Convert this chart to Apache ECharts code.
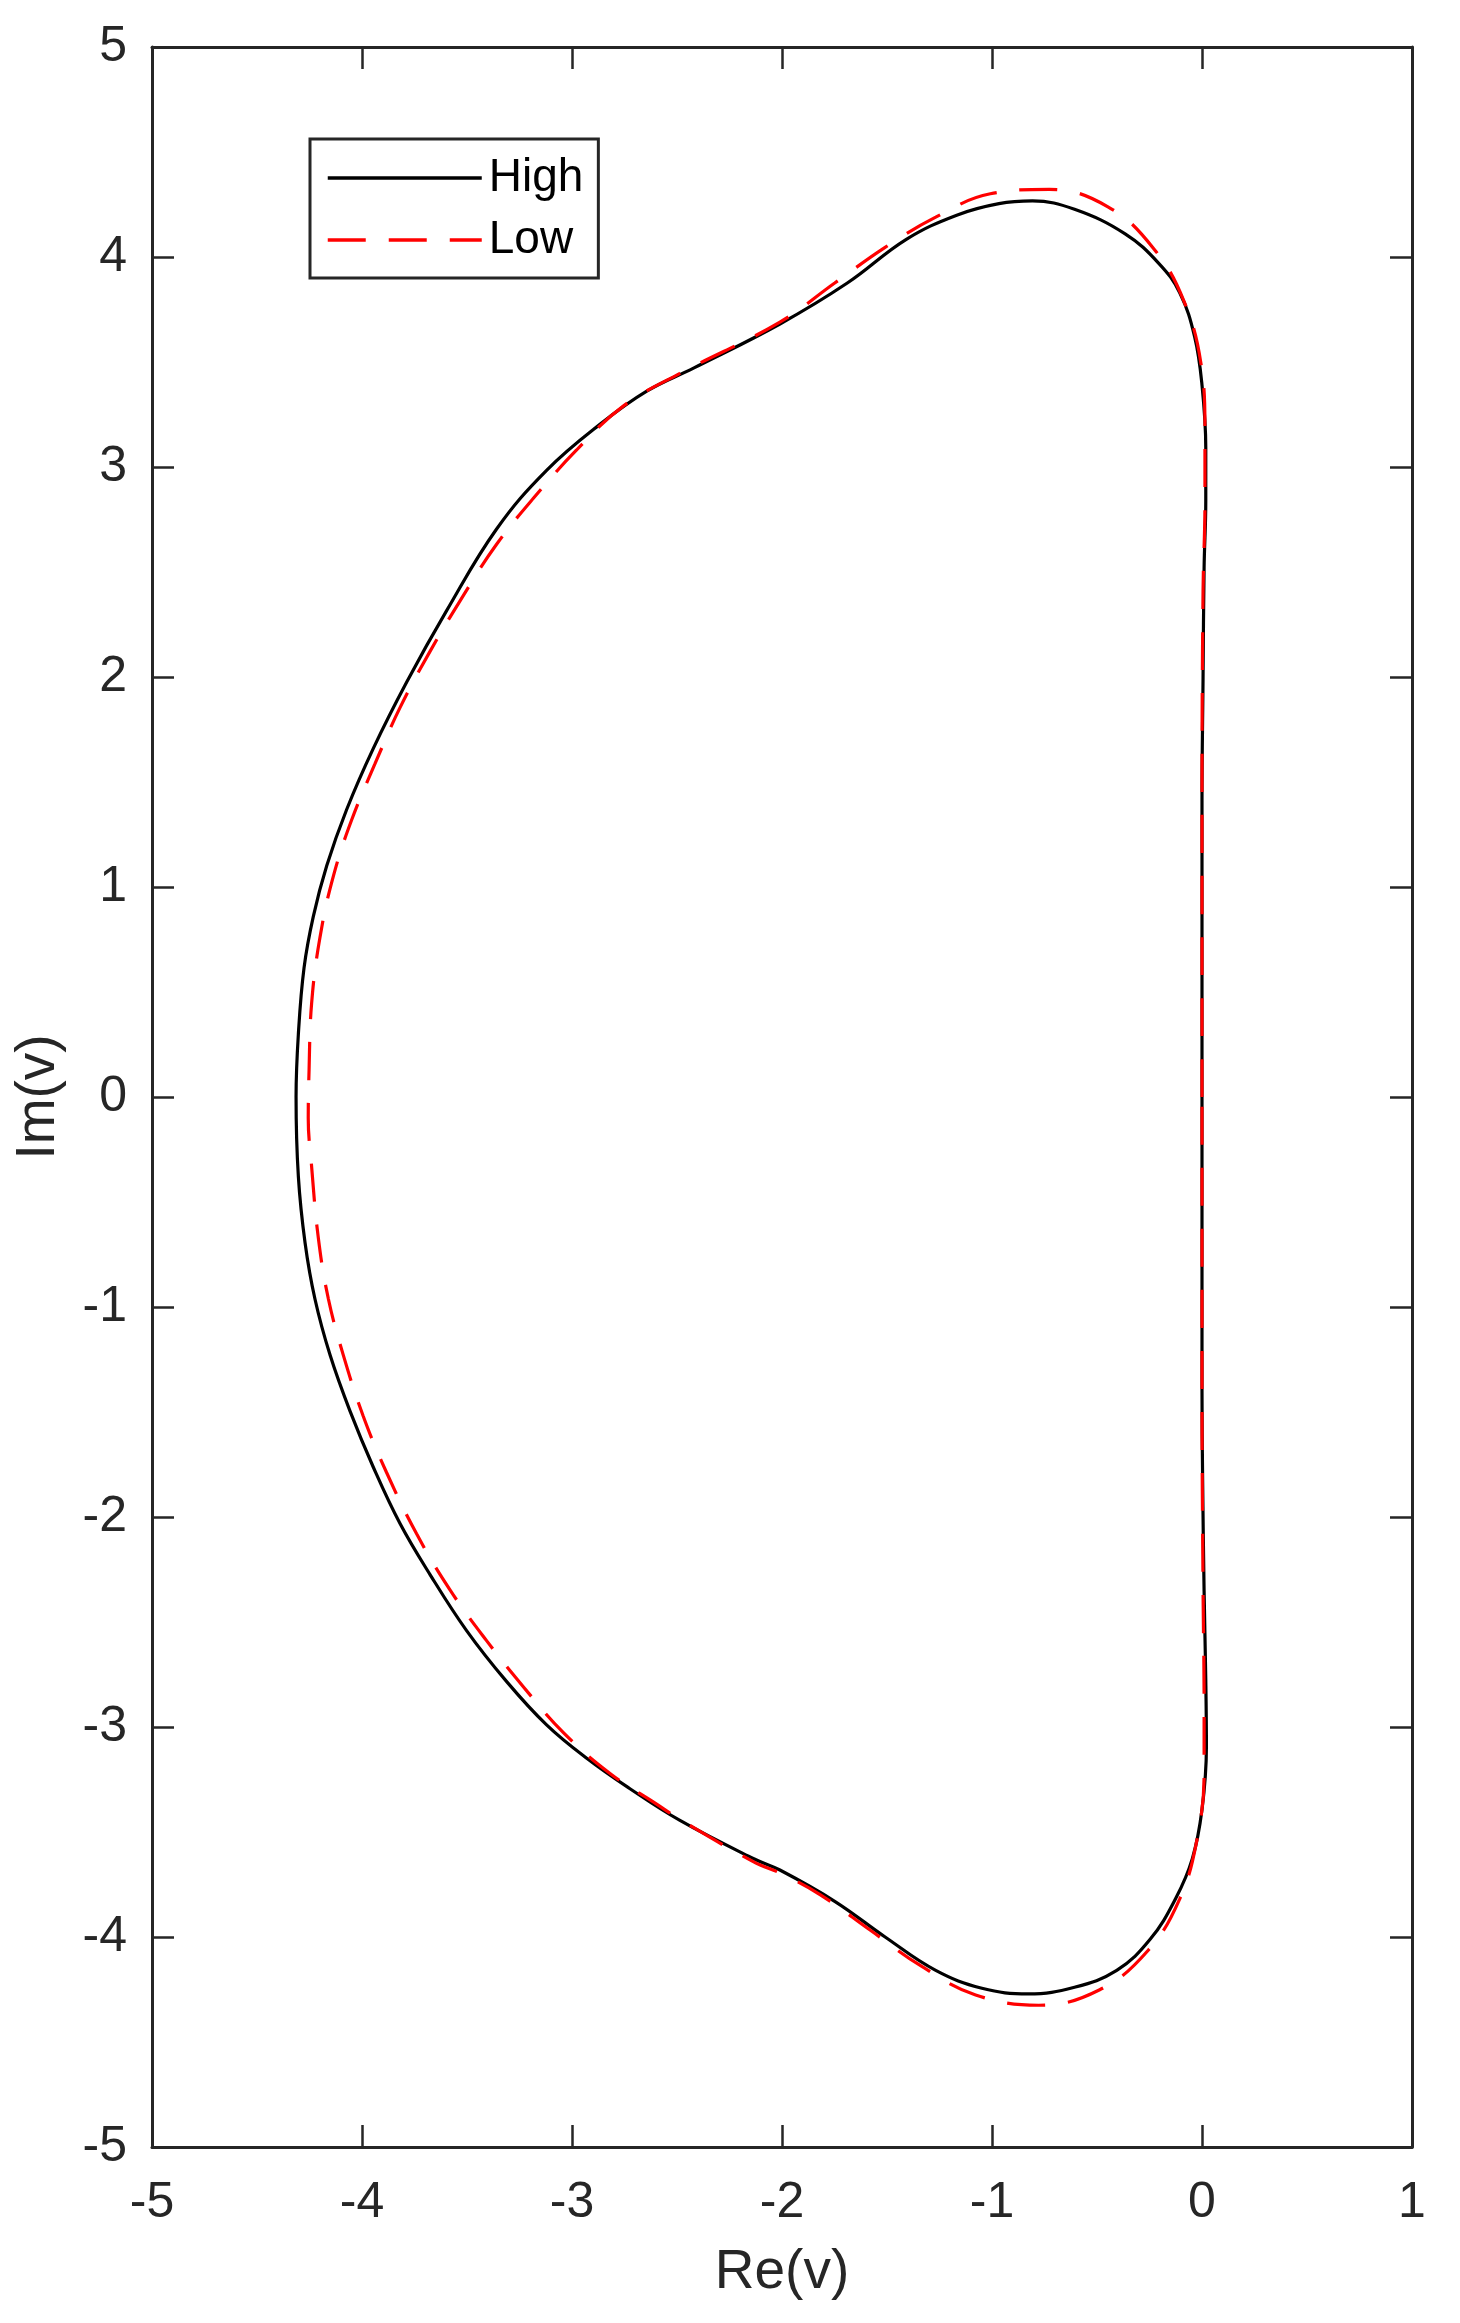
<!DOCTYPE html>
<html>
<head>
<meta charset="utf-8">
<script src="https://cdn.jsdelivr.net/npm/echarts@6/dist/echarts.min.js"></script>
<style>html,body{margin:0;padding:0;background:#fff;}#c{width:1460px;height:2323px;}</style>
</head>
<body>
<div id="c"></div>
<script>
// Tick labels
var xTicks = [-5, -4, -3, -2, -1, 0, 1];
var yTicks = [-5, -4, -3, -2, -1, 0, 1, 2, 3, 4, 5];
var seriesNames = ['High', 'Low'];

// High curve: Re(v) / Im(v), traced counter-clockwise
var highRe = [0.000, 0.000, 0.005, 0.010, 0.018, 0.018, 0.000, -0.035, -0.106, -0.206, -0.366, -0.607, -0.807, -0.967, -1.168, -1.408, -1.689, -2.010, -2.419, -2.644, -2.867, -3.121, -3.359, -3.597, -3.787, -3.946, -4.073, -4.168, -4.232, -4.276, -4.303, -4.314, -4.303, -4.271, -4.224, -4.152, -4.057, -3.946, -3.819, -3.676, -3.502, -3.311, -3.121, -2.930, -2.724, -2.486, -2.137, -2.010, -1.749, -1.509, -1.268, -1.048, -0.827, -0.607, -0.406, -0.246, -0.126, -0.046, 0.000, 0.021, 0.018, 0.010, 0.003, 0.000, 0.000];
var highIm = [0.000, 1.410, 1.990, 2.520, 2.840, 3.090, 3.390, 3.620, 3.830, 3.970, 4.110, 4.227, 4.267, 4.254, 4.199, 4.084, 3.876, 3.681, 3.472, 3.361, 3.203, 2.984, 2.705, 2.316, 1.976, 1.660, 1.369, 1.101, 0.859, 0.615, 0.300, 0.000, -0.379, -0.695, -0.962, -1.229, -1.496, -1.763, -2.031, -2.274, -2.541, -2.784, -2.990, -3.149, -3.294, -3.445, -3.626, -3.681, -3.830, -4.000, -4.159, -4.244, -4.271, -4.239, -4.159, -4.010, -3.818, -3.627, -3.393, -3.095, -2.777, -2.352, -1.820, -1.395, 0.000];

// Low curve
var lowRe = [0.000, 0.000, 0.005, 0.014, 0.014, -0.005, -0.086, -0.226, -0.446, -0.727, -1.008, -1.268, -1.509, -1.749, -2.010, -2.486, -2.756, -2.978, -3.184, -3.359, -3.517, -3.676, -3.819, -3.938, -4.049, -4.136, -4.200, -4.240, -4.252, -4.256, -4.240, -4.208, -4.160, -4.089, -3.994, -3.883, -3.740, -3.581, -3.406, -3.232, -3.041, -2.819, -2.597, -2.486, -2.137, -1.995, -1.819, -1.579, -1.338, -1.078, -0.778, -0.487, -0.256, -0.106, -0.025, 0.010, 0.010, 0.005, 0.000, 0.000];
var lowIm = [0.000, 1.410, 2.410, 2.835, 3.174, 3.493, 3.790, 4.035, 4.238, 4.322, 4.301, 4.190, 4.046, 3.876, 3.690, 3.446, 3.290, 3.081, 2.851, 2.632, 2.389, 2.122, 1.854, 1.587, 1.320, 1.053, 0.761, 0.445, 0.129, -0.100, -0.330, -0.671, -0.962, -1.229, -1.520, -1.788, -2.080, -2.347, -2.590, -2.808, -3.027, -3.221, -3.367, -3.440, -3.641, -3.702, -3.798, -3.968, -4.138, -4.276, -4.325, -4.251, -4.063, -3.818, -3.542, -3.223, -2.883, -2.350, -1.395, 0.000];

function pairs(re, im) {
  var out = [];
  for (var i = 0; i < re.length; i++) out.push([re[i], im[i]]);
  return out;
}

var FONT = '"Liberation Sans", Arial, Helvetica, sans-serif';
var AX = '#262626';

var chart = echarts.init(document.getElementById('c'), null, {renderer: 'canvas'});

var baseX = {
  type: 'value', min: xTicks[0], max: xTicks[xTicks.length - 1], interval: 1,
  splitLine: {show: false},
  axisLine: {show: true, onZero: false, lineStyle: {color: AX, width: 3}},
  axisTick: {show: true, inside: true, length: 22, lineStyle: {color: AX, width: 2.5}}
};
var baseY = {
  type: 'value', min: yTicks[0], max: yTicks[yTicks.length - 1], interval: 1,
  splitLine: {show: false},
  axisLine: {show: true, onZero: false, lineStyle: {color: AX, width: 3}},
  axisTick: {show: true, inside: true, length: 22, lineStyle: {color: AX, width: 2.5}}
};

chart.setOption({
  animation: false,
  backgroundColor: '#ffffff',
  grid: {left: 152, right: 48, top: 47, bottom: 176, containLabel: false},
  legend: {
    orient: 'vertical', left: 310, top: 139,
    data: seriesNames,
    itemWidth: 154, itemHeight: 46, itemGap: 16,
    padding: [16, 15, 15, 16],
    borderColor: AX, borderWidth: 3, backgroundColor: '#fff',
    itemStyle: {opacity: 0},
    lineStyle: {width: 3.5},
    textStyle: {fontFamily: FONT, fontSize: 46, color: '#000', lineHeight: 46, padding: [0, 0, 0, 2]}
  },
  xAxis: [
    Object.assign({}, baseX, {
      position: 'bottom',
      name: 'Re(v)', nameLocation: 'middle', nameGap: 98,
      nameTextStyle: {fontFamily: FONT, fontSize: 55, color: AX},
      axisLabel: {show: true, margin: 31, fontFamily: FONT, fontSize: 50, color: AX,
        formatter: function (v) { return String(v); }}
    }),
    Object.assign({}, baseX, {position: 'top', axisLabel: {show: false}})
  ],
  yAxis: [
    Object.assign({}, baseY, {
      position: 'left',
      name: 'Im(v)', nameLocation: 'middle', nameGap: 86,
      nameTextStyle: {fontFamily: FONT, fontSize: 55, color: AX},
      axisLabel: {show: true, margin: 25, fontFamily: FONT, fontSize: 50, color: AX,
        formatter: function (v) { return String(v); }}
    }),
    Object.assign({}, baseY, {position: 'right', axisLabel: {show: false}})
  ],
  series: [
    {
      name: seriesNames[0], type: 'line', xAxisIndex: 0, yAxisIndex: 0,
      data: pairs(highRe, highIm),
      symbol: 'none', showSymbol: false, smooth: 0.4,
      lineStyle: {color: '#000000', width: 3.2, type: 'solid'},
      itemStyle: {color: '#000000'},
      z: 3
    },
    {
      name: seriesNames[1], type: 'line', xAxisIndex: 0, yAxisIndex: 0,
      data: pairs(lowRe, lowIm),
      symbol: 'none', showSymbol: false, smooth: 0.4,
      lineStyle: {color: '#ff0000', width: 3.2, type: [38, 23]},
      itemStyle: {color: '#ff0000'},
      z: 4
    }
  ]
});
</script>
</body>
</html>
